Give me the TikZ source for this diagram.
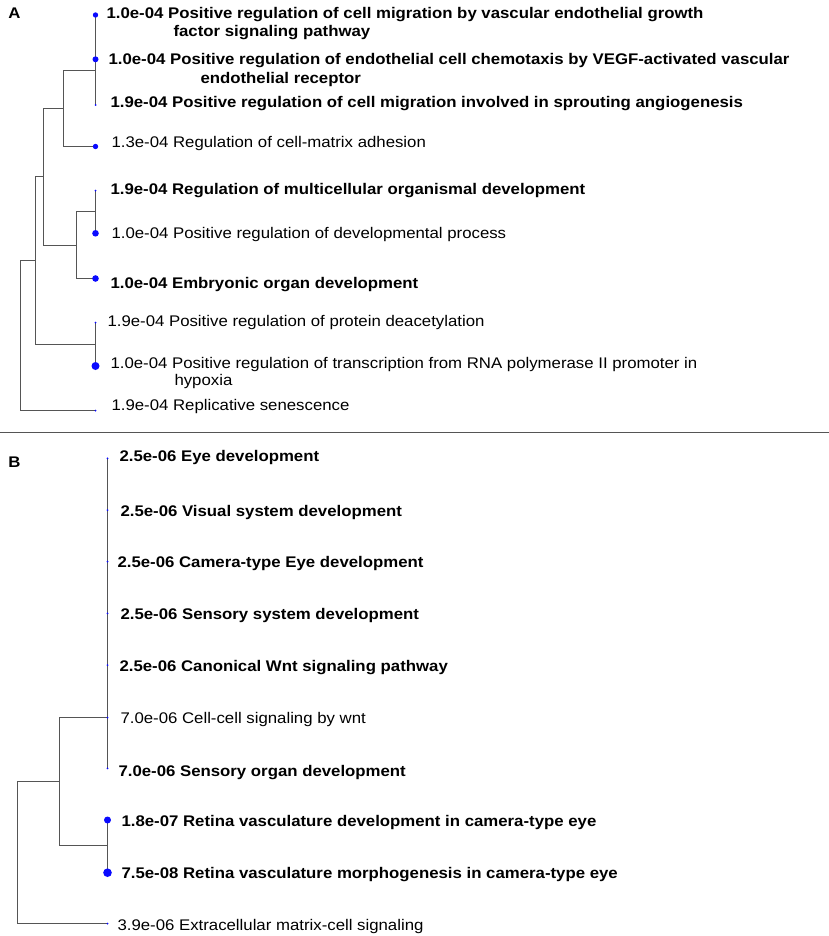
\documentclass[tikz,border=0pt]{standalone}
\usepackage{fontspec}
\setmainfont{Liberation Sans}[FakeStretch=1.09]
\tikzset{
every picture/.style={
line width=1pt
}}
\definecolor{treegray}{RGB}{85,85,85}
\definecolor{dotblue}{RGB}{10,10,255}

\begin{document}
\begin{tikzpicture}[x=1pt, y=-1pt,
branch/.style = {draw=treegray, line width=1pt},
term/.style = {anchor=base west, inner sep=0pt, font=\fontsize{15.4}{18}\selectfont},
hit/.style = {term, font=\fontsize{15.4}{18}\selectfont\bfseries}]

\useasboundingbox (0,0) rectangle (829,936);

% panel A
\node[hit] (tA) at (8,18.3) {A};
\coordinate (a1) at (95.5,15);
\coordinate (a2) at (95.5,59.3);
\coordinate (a3) at (95.5,105);
\coordinate (a4) at (95.5,146.5);
\coordinate (a5) at (95.5,190.7);
\coordinate (a6) at (95.5,233.3);
\coordinate (a7) at (95.5,278.5);
\coordinate (a8) at (95.5,322.7);
\coordinate (a9) at (95.5,366);
\coordinate (a10) at (95.5,410.5);
% joins, each at the height where its parent meets it
\coordinate (nA1) at (95.5,70.5);
\coordinate (nA2) at (63.5,108.5);
\coordinate (nA3) at (95.5,211.5);
\coordinate (nA4) at (76.5,245.5);
\coordinate (nA5) at (43.5,176.5);
\coordinate (nA6) at (95.5,344.5);
\coordinate (nA7) at (35.5,260.5);
\coordinate (rootA) at (20.5,260.5);

\draw[branch] (a1) -- (a3);
\draw[branch] (nA2) |- (nA1);
\draw[branch] (nA2) |- (a4);
\draw[branch] (a5) -- (a6);
\draw[branch] (nA4) |- (nA3);
\draw[branch] (nA4) |- (a7);
\draw[branch] (nA5) |- (nA2);
\draw[branch] (nA5) |- (nA4);
\draw[branch] (a8) -- (a9);
\draw[branch] (nA7) |- (nA5);
\draw[branch] (nA7) |- (nA6);
\draw[branch] (nA7) -- (rootA) |- (a10);

\fill[dotblue] (a1) circle (2.7pt);
\fill[dotblue] (a2) circle (3pt);
\fill[dotblue] (a3) circle (1pt);
\fill[dotblue] (a4) circle (2.7pt);
\fill[dotblue] (a5) circle (1pt);
\fill[dotblue] (a6) circle (3.3pt);
\fill[dotblue] (a7) circle (3.3pt);
\fill[dotblue] (a8) circle (1pt);
\fill[dotblue] (a9) circle (4pt);
\fill[dotblue] (a10) circle (1pt);

\node[hit] (ta1) at (106,18.3) {1.0e-04 Positive regulation of cell migration by vascular endothelial growth};
\node[hit] (ta1x) at (173,36.5) {factor signaling pathway};
\node[hit] (ta2) at (108,65) {1.0e-04 Positive regulation of endothelial cell chemotaxis by VEGF-activated vascular};
\node[hit] (ta2x) at (200,83.3) {endothelial receptor};
\node[hit] (ta3) at (110,108) {1.9e-04 Positive regulation of cell migration involved in sprouting angiogenesis};
\node[term] (ta4) at (111,148) {1.3e-04 Regulation of cell-matrix adhesion};
\node[hit] (ta5) at (110,194.3) {1.9e-04 Regulation of multicellular organismal development};
\node[term] (ta6) at (111,238) {1.0e-04 Positive regulation of developmental process};
\node[hit] (ta7) at (110,288) {1.0e-04 Embryonic organ development};
\node[term] (ta8) at (107,326.7) {1.9e-04 Positive regulation of protein deacetylation};
\node[term] (ta9) at (110,368) {1.0e-04 Positive regulation of transcription from RNA polymerase II promoter in};
\node[term] (ta9x) at (174,385.7) {hypoxia};
\node[term] (ta10) at (111,410.7) {1.9e-04 Replicative senescence};

% divider
\coordinate (sepL) at (0,432.5);
\coordinate (sepR) at (829,432.5);
\draw[branch] (sepL) -- (sepR);

% panel B
\node[hit] (tB) at (8,467.3) {B};
\coordinate (b1) at (107.5,458.3);
\coordinate (b2) at (107.5,510);
\coordinate (b3) at (107.5,561.7);
\coordinate (b4) at (107.5,613.3);
\coordinate (b5) at (107.5,665);
\coordinate (b6) at (107.5,717.5);
\coordinate (b7) at (107.5,768.3);
\coordinate (b8) at (107.5,820);
\coordinate (b9) at (107.5,872.7);
\coordinate (b10) at (107.5,923.5);
\coordinate (nB1) at (107.5,717.5);
\coordinate (nB2) at (107.5,845.5);
\coordinate (nB3) at (59.5,781.5);
\coordinate (rootB) at (17.5,781.5);

\draw[branch] (b1) -- (b7);
\draw[branch] (b8) -- (b9);
\draw[branch] (nB3) |- (nB1);
\draw[branch] (nB3) |- (nB2);
\draw[branch] (nB3) -- (rootB) |- (b10);

\foreach \leaf in {b1,b2,b3,b4,b5,b6,b7,b10}
  \fill[dotblue] (\leaf) circle (1pt);
\fill[dotblue] (b8) circle (3.5pt);
\fill[dotblue] (b9) circle (4.3pt);

\node[hit] (tb1) at (119,461.7) {2.5e-06 Eye development};
\node[hit] (tb2) at (120,516) {2.5e-06 Visual system development};
\node[hit] (tb3) at (117,567.7) {2.5e-06 Camera-type Eye development};
\node[hit] (tb4) at (120,619) {2.5e-06 Sensory system development};
\node[hit] (tb5) at (119,671) {2.5e-06 Canonical Wnt signaling pathway};
\node[term] (tb6) at (120,723.3) {7.0e-06 Cell-cell signaling by wnt};
\node[hit] (tb7) at (118,776) {7.0e-06 Sensory organ development};
\node[hit] (tb8) at (121,826.7) {1.8e-07 Retina vasculature development in camera-type eye};
\node[hit] (tb9) at (121,878.3) {7.5e-08 Retina vasculature morphogenesis in camera-type eye};
\node[term] (tb10) at (117,930) {3.9e-06 Extracellular matrix-cell signaling};
\end{tikzpicture}
\end{document}
